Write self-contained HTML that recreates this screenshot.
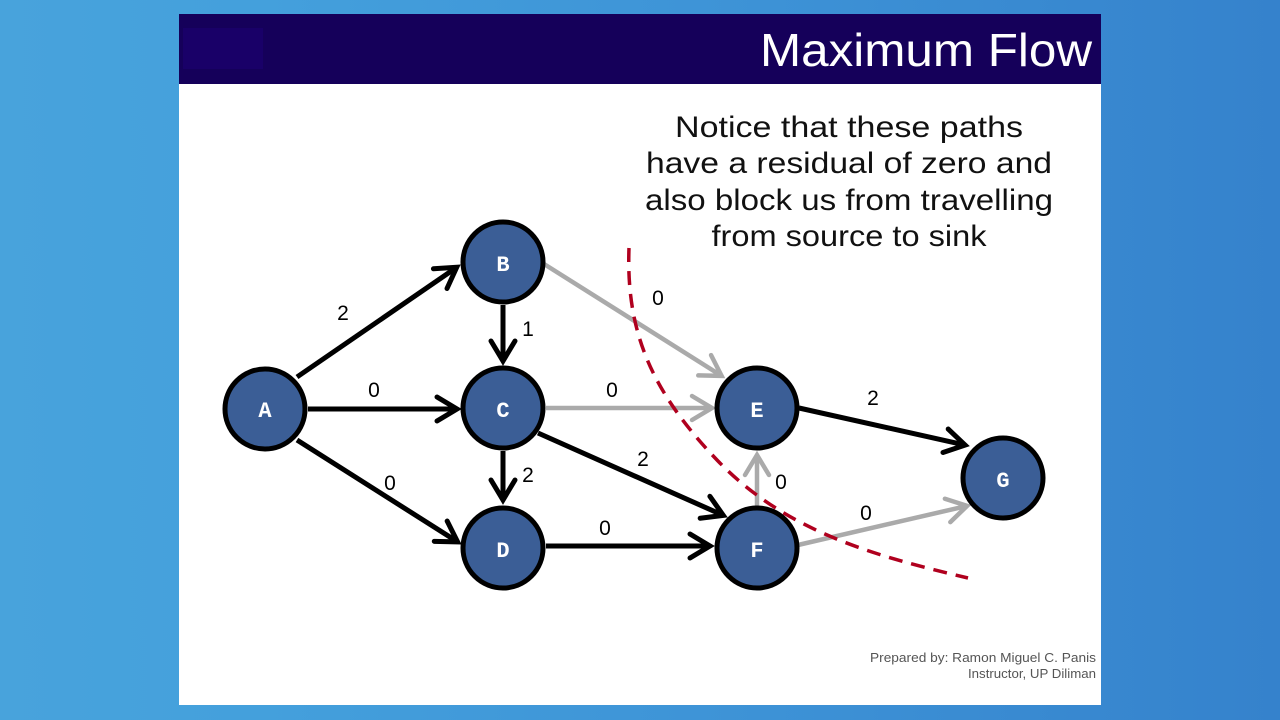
<!DOCTYPE html>
<html>
<head>
<meta charset="utf-8">
<style>
  html,body{margin:0;padding:0;width:1280px;height:720px;overflow:hidden;}
  body{background:linear-gradient(90deg,#48a3dc 0%,#44a0dc 20%,#3d92d6 60%,#3582cc 100%);}
  svg{display:block;position:absolute;left:0;top:0;}
</style>
</head>
<body>
<svg width="1280" height="720" viewBox="0 0 1280 720" xmlns="http://www.w3.org/2000/svg">
  <defs>
    <marker id="ab" markerUnits="userSpaceOnUse" markerWidth="40" markerHeight="40" viewBox="-30 -20 40 40" refX="0" refY="0" orient="auto">
      <path d="M-20,-12 L0,0 L-20,12" fill="none" stroke="#000" stroke-width="5" stroke-linecap="round" stroke-linejoin="miter"/>
    </marker>
    <marker id="ag" markerUnits="userSpaceOnUse" markerWidth="40" markerHeight="40" viewBox="-30 -20 40 40" refX="0" refY="0" orient="auto">
      <path d="M-20,-12 L0,0 L-20,12" fill="none" stroke="#aaaaaa" stroke-width="4.5" stroke-linecap="round" stroke-linejoin="miter"/>
    </marker>
  </defs>

  <!-- slide -->
  <rect x="179" y="14" width="922" height="691" fill="#ffffff"/>
  <rect x="179" y="14" width="922" height="70" fill="#15005a"/>
  <rect x="183" y="28" width="80" height="41" fill="#190068"/>
  <text x="1092" y="66" text-anchor="end" font-family="'Liberation Sans', sans-serif" font-size="46" fill="#ffffff" textLength="332" lengthAdjust="spacingAndGlyphs">Maximum Flow</text>

  <!-- body text -->
  <g font-family="'Liberation Sans', sans-serif" font-size="30" fill="#111" text-anchor="middle">
    <text x="849" y="137" textLength="348" lengthAdjust="spacingAndGlyphs">Notice that these paths</text>
    <text x="849" y="173" textLength="406" lengthAdjust="spacingAndGlyphs">have a residual of zero and</text>
    <text x="849" y="210" textLength="408" lengthAdjust="spacingAndGlyphs">also block us from travelling</text>
    <text x="849" y="246" textLength="275" lengthAdjust="spacingAndGlyphs">from source to sink</text>
  </g>

  <!-- edges black -->
  <g stroke="#000" stroke-width="5" fill="none">
    <line x1="297" y1="377" x2="456.7" y2="267.3" marker-end="url(#ab)"/>
    <line x1="308" y1="409" x2="457" y2="409" marker-end="url(#ab)"/>
    <line x1="297" y1="440" x2="457.6" y2="541.9" marker-end="url(#ab)"/>
    <line x1="503" y1="305" x2="503" y2="361" marker-end="url(#ab)"/>
    <line x1="503" y1="451" x2="503" y2="500" marker-end="url(#ab)"/>
    <line x1="546" y1="546" x2="710" y2="546" marker-end="url(#ab)"/>
    <line x1="538" y1="433" x2="723.3" y2="515.4" marker-end="url(#ab)"/>
    <line x1="799" y1="408" x2="965.1" y2="445.1" marker-end="url(#ab)"/>
  </g>
  <!-- edges gray -->
  <g stroke="#aaaaaa" stroke-width="4.5" fill="none">
    <line x1="544" y1="264" x2="721.6" y2="375.9" marker-end="url(#ag)"/>
    <line x1="546" y1="408" x2="712" y2="408" marker-end="url(#ag)"/>
    <line x1="757" y1="506" x2="757" y2="455" marker-end="url(#ag)"/>
    <line x1="798" y1="545" x2="967.1" y2="505.9" marker-end="url(#ag)"/>
  </g>

  <!-- nodes -->
  <g fill="#3b5e96" stroke="#000" stroke-width="5">
    <circle cx="265" cy="409" r="40"/>
    <circle cx="503" cy="262" r="40"/>
    <circle cx="503" cy="408" r="40"/>
    <circle cx="503" cy="548" r="40"/>
    <circle cx="757" cy="408" r="40"/>
    <circle cx="757" cy="548" r="40"/>
    <circle cx="1003" cy="478" r="40"/>
  </g>
  <g font-family="'Liberation Mono', monospace" font-weight="bold" font-size="22" fill="#ffffff" text-anchor="middle">
    <text x="265" y="417">A</text>
    <text x="503" y="271">B</text>
    <text x="503" y="417">C</text>
    <text x="503" y="557">D</text>
    <text x="757" y="417">E</text>
    <text x="757" y="557">F</text>
    <text x="1003" y="487">G</text>
  </g>

  <!-- edge labels -->
  <g font-family="'Liberation Sans', sans-serif" font-size="21" fill="#000" text-anchor="middle">
    <text x="343" y="320">2</text>
    <text x="374" y="397">0</text>
    <text x="390" y="490">0</text>
    <text x="528" y="336">1</text>
    <text x="528" y="482">2</text>
    <text x="658" y="305">0</text>
    <text x="612" y="397">0</text>
    <text x="643" y="466">2</text>
    <text x="605" y="535">0</text>
    <text x="781" y="489">0</text>
    <text x="873" y="405">2</text>
    <text x="866" y="520">0</text>
  </g>

  <!-- cut -->
  <path d="M629,248 C626,330 650,390 717,460 S 870,555 968,578" fill="none" stroke="#b0001e" stroke-width="3.5" stroke-dasharray="14,9"/>

  <!-- footer -->
  <g font-family="'Liberation Sans', sans-serif" font-size="12.5" fill="#555" text-anchor="end">
    <text x="1096" y="662" textLength="226" lengthAdjust="spacingAndGlyphs">Prepared by: Ramon Miguel C. Panis</text>
    <text x="1096" y="678" textLength="128" lengthAdjust="spacingAndGlyphs">Instructor, UP Diliman</text>
  </g>
</svg>
</body>
</html>
